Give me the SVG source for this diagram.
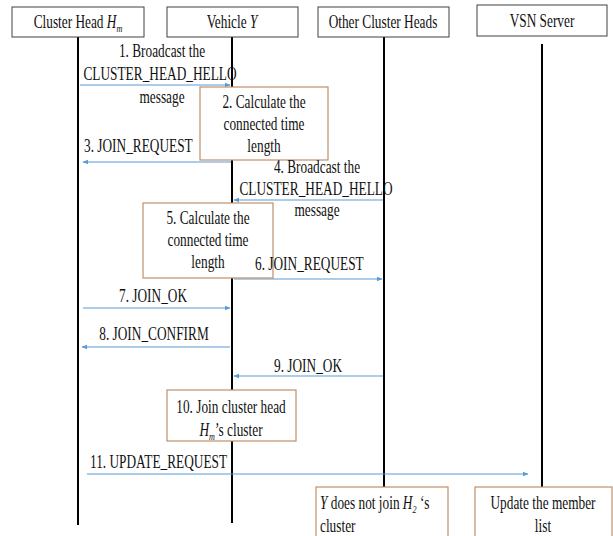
<svg xmlns="http://www.w3.org/2000/svg" width="613" height="536" viewBox="0 0 613 536">
<defs>
<style>
.hdr{fill:#fff;stroke:#404040;stroke-width:1}
.note{fill:#fff;stroke:#c0906a;stroke-width:1.2}
.life{stroke:#000;stroke-width:2}
.msg{stroke:#5b9bd5;stroke-width:1.2;fill:none;marker-end:url(#ah)}
text{font-family:"Liberation Serif","Times New Roman",serif;font-size:18px;fill:#111}
.c{text-anchor:middle}
.i{font-style:italic}
.sub{font-size:11px;font-style:italic}
</style>
<marker id="ah" viewBox="0 0 10 10" refX="9" refY="5" markerWidth="6" markerHeight="6" markerUnits="userSpaceOnUse" orient="auto">
<path d="M0,1 L10,5 L0,9 z" fill="#5b9bd5"/>
</marker>
</defs>
<rect width="613" height="536" fill="#fff"/>

<g id="lifelines">
<line class="life" x1="78" y1="37" x2="78" y2="525"/>
<line class="life" x1="232" y1="37" x2="232" y2="523"/>
<line class="life" x1="384" y1="37" x2="384" y2="487"/>
<line class="life" x1="542" y1="44" x2="542" y2="487"/>
</g>

<g id="head-cluster">
<rect class="hdr" x="12" y="7" width="132" height="30"/>
<text class="c" transform="translate(78,28) scale(0.74,1)">Cluster Head <tspan class="i">H</tspan><tspan class="sub" dy="4">m</tspan></text>
</g>
<g id="head-vehicle">
<rect class="hdr" x="167" y="7" width="131" height="30"/>
<text class="c" transform="translate(232,28) scale(0.74,1)">Vehicle <tspan class="i">Y</tspan></text>
</g>
<g id="head-other">
<rect class="hdr" x="318" y="7" width="131" height="30"/>
<text class="c" transform="translate(383,28) scale(0.74,1)">Other Cluster Heads</text>
</g>
<g id="head-vsn">
<rect class="hdr" x="477" y="5" width="130" height="31"/>
<text class="c" transform="translate(542,27) scale(0.74,1)">VSN Server</text>
</g>

<g id="connectors">
<line class="msg" x1="80" y1="85" x2="230" y2="85"/>
<line class="msg" x1="231" y1="162" x2="83" y2="162"/>
<line class="msg" x1="383" y1="200" x2="234" y2="200"/>
<line class="msg" x1="234" y1="279" x2="382" y2="279"/>
<line class="msg" x1="83" y1="308" x2="230" y2="308"/>
<line class="msg" x1="230" y1="347" x2="82" y2="347"/>
<line class="msg" x1="383" y1="376" x2="234" y2="376"/>
<line class="msg" x1="87" y1="474" x2="528" y2="474"/>
</g>

<g id="note-calc1">
<rect class="note" x="200" y="87" width="128" height="73"/>
<text class="c" transform="translate(264,108) scale(0.74,1)">2. Calculate the</text>
<text class="c" transform="translate(264,130) scale(0.74,1)">connected time</text>
<text class="c" transform="translate(264,152) scale(0.74,1)">length</text>
</g>
<g id="note-calc2">
<rect class="note" x="143" y="203" width="130" height="75"/>
<text class="c" transform="translate(208,224) scale(0.74,1)">5. Calculate the</text>
<text class="c" transform="translate(208,246) scale(0.74,1)">connected time</text>
<text class="c" transform="translate(208,268) scale(0.74,1)">length</text>
</g>
<g id="note-join">
<rect class="note" x="167" y="390" width="129" height="51"/>
<text class="c" transform="translate(231,413) scale(0.74,1)">10. Join cluster head</text>
<text class="c" transform="translate(231,436) scale(0.74,1)"><tspan class="i">H</tspan><tspan class="sub" dy="4">m</tspan><tspan dy="-4">’s cluster</tspan></text>
</g>
<g id="note-notjoin">
<rect class="note" x="316" y="487" width="132" height="55"/>
<text transform="translate(320,509) scale(0.74,1)"><tspan class="i">Y</tspan> does not join <tspan class="i">H</tspan><tspan class="sub" dy="4">2</tspan><tspan dy="-4"> ‘s</tspan></text>
<text transform="translate(320,532) scale(0.74,1)">cluster</text>
</g>
<g id="note-update">
<rect class="note" x="475" y="487" width="137" height="55"/>
<text class="c" transform="translate(543,509) scale(0.74,1)">Update the member</text>
<text class="c" transform="translate(543,532) scale(0.74,1)">list</text>
</g>

<g id="labels">
<text class="c" transform="translate(162,57) scale(0.74,1)">1. Broadcast the</text>
<text class="c" transform="translate(160,80) scale(0.74,1)">CLUSTER_HEAD_HELLO</text>
<text class="c" transform="translate(162,103) scale(0.74,1)">message</text>
<text transform="translate(84,152) scale(0.74,1)">3. JOIN_REQUEST</text>
<text class="c" transform="translate(317,173) scale(0.74,1)">4. Broadcast the</text>
<text class="c" transform="translate(316,195) scale(0.74,1)">CLUSTER_HEAD_HELLO</text>
<text class="c" transform="translate(317,216) scale(0.74,1)">message</text>
<text transform="translate(255,270) scale(0.74,1)">6. JOIN_REQUEST</text>
<text class="c" transform="translate(153,302) scale(0.74,1)">7. JOIN_OK</text>
<text class="c" transform="translate(154,340) scale(0.74,1)">8. JOIN_CONFIRM</text>
<text class="c" transform="translate(308,372) scale(0.74,1)">9. JOIN_OK</text>
<text transform="translate(90,468) scale(0.74,1)">11. UPDATE_REQUEST</text>
</g>
</svg>
